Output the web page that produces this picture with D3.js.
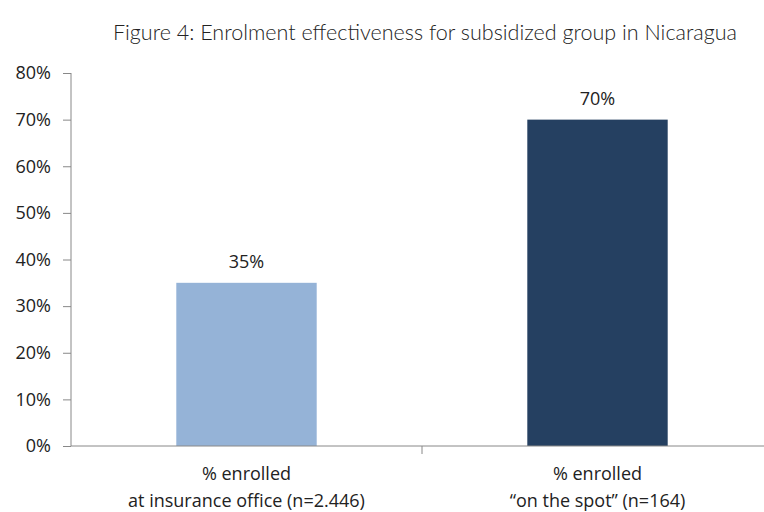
<!DOCTYPE html>
<html><head><meta charset="utf-8">
<script src="https://cdn.jsdelivr.net/npm/d3@7"></script>
<style>body{margin:0;background:#fff}</style>
</head><body>
<svg id="c" width="764" height="512"></svg>
<script>
const categories = [["% enrolled", "at insurance office (n=2.446)"], ["% enrolled", "\u201con the spot\u201d (n=164)"]];
const values = [0.35, 0.70];
const barColors = ["#95B3D7", "#254061"];
const yTicks = [0, 0.1, 0.2, 0.3, 0.4, 0.5, 0.6, 0.7, 0.8];
const title = "Figure 4: Enrolment effectiveness for subsidized group in Nicaragua";

const svg = d3.select("#c");
const x = d3.scaleBand().domain(d3.range(categories.length)).range([71, 773]).paddingInner(0.6).paddingOuter(0.3);
const y = d3.scaleLinear().domain([0, 0.8]).range([446, 73]);
const font = "'Open Sans', Lato, sans-serif";

svg.append("text").attr("x", 425).attr("y", 40).attr("text-anchor", "middle")
  .attr("font-family", "Lato, sans-serif").attr("font-weight", 300).attr("font-size", 21.5).attr("fill", "#222")
  .attr("textLength", 624).attr("lengthAdjust", "spacingAndGlyphs").text(title);

const ya = svg.append("g").attr("transform", "translate(71,0)")
  .call(d3.axisLeft(y).tickValues(yTicks).tickFormat(d3.format(".0%")).tickSize(8).tickPadding(12));
ya.select(".domain").attr("stroke", "#888").attr("d", `M0,${y(0)}V${y(0.8)}`);
ya.selectAll(".tick line").attr("stroke", "#888");
ya.selectAll("text").attr("font-family", font).attr("font-size", 18).attr("fill", "#222");

svg.selectAll("rect.bar").data(values).enter().append("rect").attr("class", "bar")
  .attr("x", (d, i) => x(i)).attr("width", x.bandwidth())
  .attr("y", d => y(d)).attr("height", d => y(0) - y(d)).attr("fill", (d, i) => barColors[i]);

const xa = svg.append("g").attr("transform", `translate(0,${y(0)})`);
xa.append("line").attr("x1", 71).attr("x2", 764).attr("y1", 0).attr("y2", 0).attr("stroke", "#888");
xa.append("line").attr("x1", x(1) - x.step() * 0.3).attr("x2", x(1) - x.step() * 0.3).attr("y1", 0).attr("y2", 8).attr("stroke", "#888");

svg.selectAll("text.val").data(values).enter().append("text").attr("class", "val")
  .attr("x", (d, i) => x(i) + x.bandwidth() / 2).attr("y", d => y(d) - 15)
  .attr("text-anchor", "middle").attr("font-family", font).attr("font-size", 18).attr("fill", "#222")
  .text(d => d3.format(".0%")(d));

categories.forEach((lines, i) => {
  const t = svg.append("text").attr("x", x(i) + x.bandwidth() / 2).attr("y", 480)
    .attr("text-anchor", "middle").attr("font-family", font).attr("font-size", 18).attr("fill", "#222");
  lines.forEach((l, j) => t.append("tspan").attr("x", x(i) + x.bandwidth() / 2).attr("dy", j ? 27 : 0).text(l));
});
</script>
</body></html>
